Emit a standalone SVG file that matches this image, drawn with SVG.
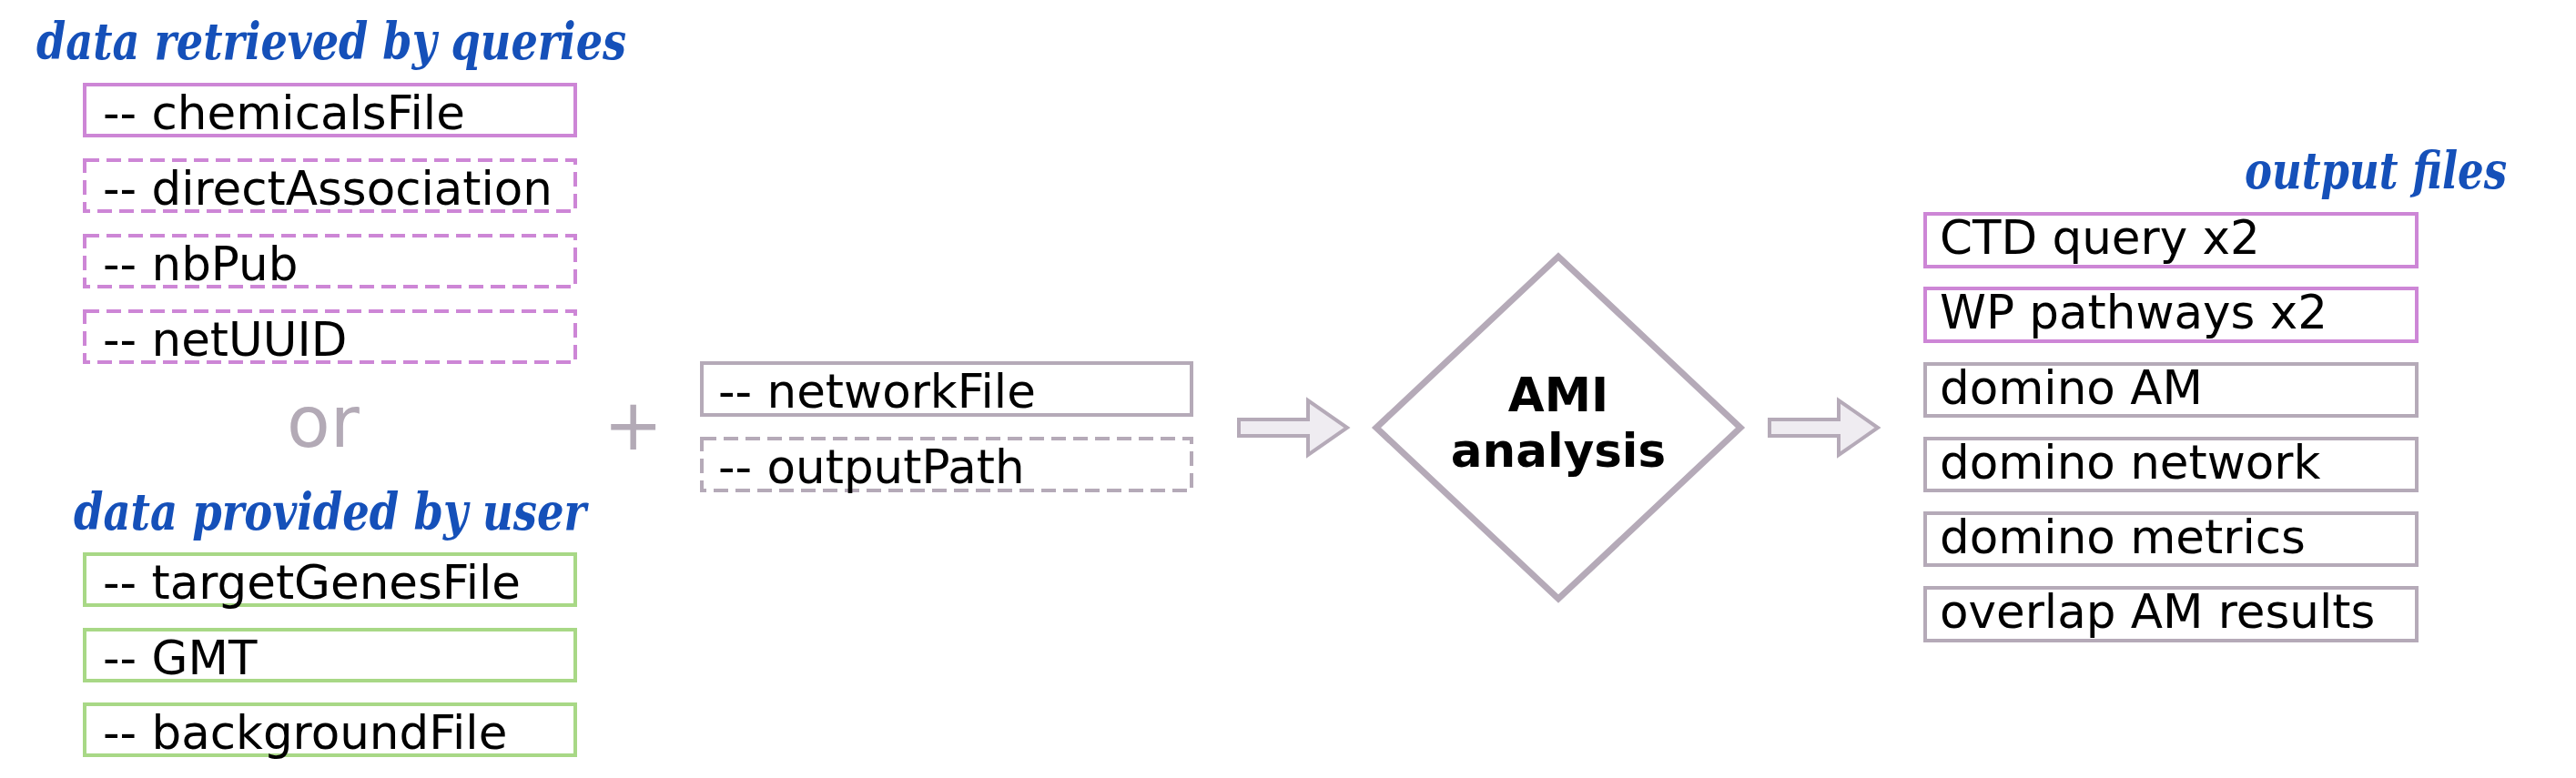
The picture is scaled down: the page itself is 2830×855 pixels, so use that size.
<svg xmlns="http://www.w3.org/2000/svg" width="2830" height="855" viewBox="0 0 2830 855">
<style>
  .title { font-family: "DejaVu Serif", "Liberation Serif", serif; font-weight: bold; font-style: italic; font-stretch: condensed; font-size: 56px; fill: #1550b9; }
  .lbl { font-family: "DejaVu Sans", "Liberation Sans", sans-serif; font-size: 51.5px; fill: #000000; }
  .op { font-family: "DejaVu Sans", "Liberation Sans", sans-serif; font-size: 78px; fill: #b3aab6; }
  .bold { font-family: "DejaVu Sans", "Liberation Sans", sans-serif; font-size: 51.5px; font-weight: bold; fill: #000000; text-anchor: middle; }
  .box { fill: #ffffff; stroke-width: 4; }
  .purple { stroke: #cd86d6; }
  .green { stroke: #a8d886; }
  .gray { stroke: #b5aab8; }
  .dash { stroke-dasharray: 16 8; }
  .arrow { fill: #efecf1; stroke: #b5aab8; stroke-width: 4; stroke-linejoin: miter; }
  .diamond { fill: #ffffff; stroke: #b5aab8; stroke-width: 7; }
</style>
<rect width="2830" height="855" fill="#ffffff"/>

<g id="title-queries"><text class="title" x="40" y="65" textLength="648" lengthAdjust="spacingAndGlyphs">data retrieved by queries</text></g>
<g id="node-chemicalsFile"><rect class="box purple" x="93" y="93" width="539" height="56"/><text class="lbl" x="113" y="142">-- chemicalsFile</text></g>
<g id="node-directAssociation"><rect class="box purple dash" x="93" y="176" width="539" height="56"/><text class="lbl" x="113" y="225">-- directAssociation</text></g>
<g id="node-nbPub"><rect class="box purple dash" x="93" y="259" width="539" height="56"/><text class="lbl" x="113" y="308">-- nbPub</text></g>
<g id="node-netUUID"><rect class="box purple dash" x="93" y="342" width="539" height="56"/><text class="lbl" x="113" y="391">-- netUUID</text></g>

<g id="or"><text class="op" x="315" y="491">or</text></g>

<g id="title-user"><text class="title" x="81" y="582" textLength="563" lengthAdjust="spacingAndGlyphs">data provided by user</text></g>
<g id="node-targetGenesFile"><rect class="box green" x="93" y="609" width="539" height="56"/><text class="lbl" x="113" y="658">-- targetGenesFile</text></g>
<g id="node-GMT"><rect class="box green" x="93" y="692" width="539" height="56"/><text class="lbl" x="113" y="741">-- GMT</text></g>
<g id="node-backgroundFile"><rect class="box green" x="93" y="774" width="539" height="56"/><text class="lbl" x="113" y="823">-- backgroundFile</text></g>

<g id="plus"><text class="op" x="663" y="494">+</text></g>

<g id="node-networkFile"><rect class="box gray" x="771" y="399" width="538" height="57"/><text class="lbl" x="789" y="448">-- networkFile</text></g>
<g id="node-outputPath"><rect class="box gray dash" x="771" y="482" width="538" height="57"/><text class="lbl" x="789" y="531">-- outputPath</text></g>

<g id="node-AMI"><polygon class="diamond" points="1712,282 1912,470 1712,658 1512,470"/><text class="bold" x="1712" y="452">AMI</text><text class="bold" x="1712" y="513">analysis</text></g>

<g id="title-output"><text class="title" x="2466" y="207" textLength="288" lengthAdjust="spacingAndGlyphs">output files</text></g>
<g id="out-CTD"><rect class="box purple" x="2115" y="235" width="540" height="58"/><text class="lbl" x="2131" y="279">CTD query x2</text></g>
<g id="out-WP"><rect class="box purple" x="2115" y="317" width="540" height="58"/><text class="lbl" x="2131" y="361">WP pathways x2</text></g>
<g id="out-dominoAM"><rect class="box gray" x="2115" y="400" width="540" height="57"/><text class="lbl" x="2131" y="444">domino AM</text></g>
<g id="out-dominoNetwork"><rect class="box gray" x="2115" y="482" width="540" height="57"/><text class="lbl" x="2131" y="526">domino network</text></g>
<g id="out-dominoMetrics"><rect class="box gray" x="2115" y="564" width="540" height="57"/><text class="lbl" x="2131" y="608">domino metrics</text></g>
<g id="out-overlap"><rect class="box gray" x="2115" y="646" width="540" height="58"/><text class="lbl" x="2131" y="690">overlap AM results</text></g>

<g id="connectors">
  <polygon class="arrow" points="1361,461 1437,461 1437,440 1480,470 1437,500 1437,479 1361,479"/>
  <polygon class="arrow" points="1944,461 2020,461 2020,440 2063,470 2020,500 2020,479 1944,479"/>
</g>
</svg>
